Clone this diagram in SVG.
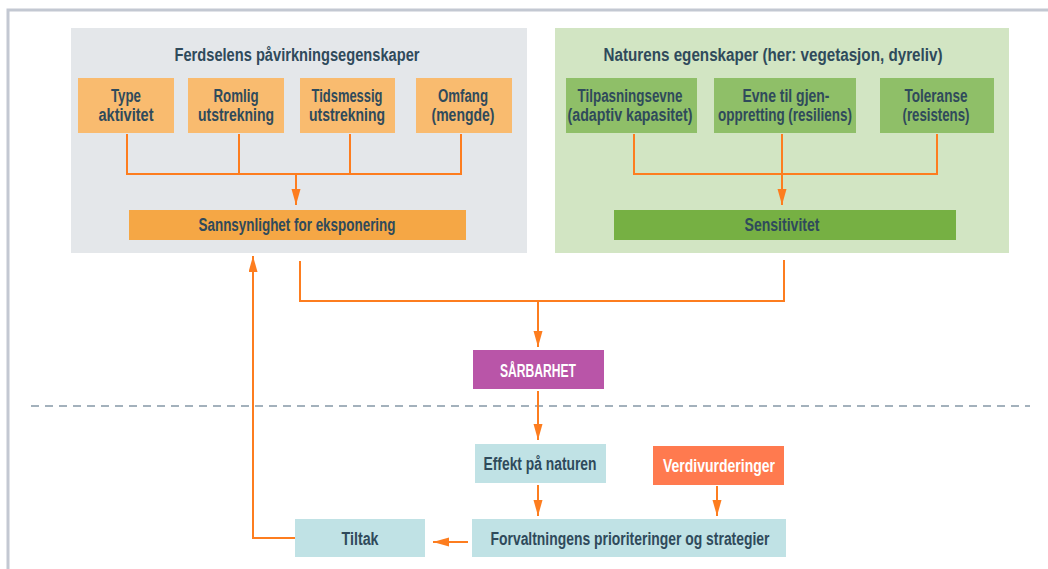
<svg xmlns="http://www.w3.org/2000/svg" width="1048" height="569" viewBox="0 0 1048 569">
<style>
.t{font-family:"Liberation Sans",Arial,sans-serif;font-weight:bold;font-size:18px;fill:#2f4a5b;text-anchor:middle}
.w{fill:#ffffff}
.c{fill:none;stroke:#fd7d1f;stroke-width:2}
.a{marker-end:url(#ah)}
</style>
<defs>
<marker id="ah" markerUnits="userSpaceOnUse" markerWidth="16" markerHeight="10" refX="16" refY="4.5" orient="auto">
<path d="M0,0 L16,4.5 L0,9 z" fill="#fd7d1f"/>
</marker>
</defs>
<rect width="1048" height="569" fill="#ffffff"/>
<path d="M8,569 V10 H1048" fill="none" stroke="#c3c8d2" stroke-width="3"/>
<line x1="31" y1="406" x2="1030" y2="406" stroke="#a3b1bc" stroke-width="2" stroke-dasharray="8 6"/>

<g id="panel-ferdsel">
<rect x="71" y="28" width="456" height="225" fill="#e4e7ea"/>
<text class="t" x="297" y="61" font-size="19" textLength="245" lengthAdjust="spacingAndGlyphs">Ferdselens påvirkningsegenskaper</text>
</g>
<g id="panel-natur">
<rect x="555" y="28" width="454" height="225" fill="#d2e5c3"/>
<text class="t" x="773" y="61" font-size="19" textLength="339" lengthAdjust="spacingAndGlyphs">Naturens egenskaper (her: vegetasjon, dyreliv)</text>
</g>

<g id="type-aktivitet">
<rect x="78" y="78" width="96" height="55" fill="#f9bb6f"/>
<text class="t" x="126" y="102" textLength="30" lengthAdjust="spacingAndGlyphs">Type</text>
<text class="t" x="126" y="121" textLength="55" lengthAdjust="spacingAndGlyphs">aktivitet</text>
</g>
<g id="romlig">
<rect x="188" y="78" width="96" height="55" fill="#f9bb6f"/>
<text class="t" x="236" y="102" textLength="45" lengthAdjust="spacingAndGlyphs">Romlig</text>
<text class="t" x="236" y="121" textLength="76" lengthAdjust="spacingAndGlyphs">utstrekning</text>
</g>
<g id="tidsmessig">
<rect x="300" y="78" width="95" height="55" fill="#f9bb6f"/>
<text class="t" x="347" y="102" textLength="71" lengthAdjust="spacingAndGlyphs">Tidsmessig</text>
<text class="t" x="347" y="121" textLength="76" lengthAdjust="spacingAndGlyphs">utstrekning</text>
</g>
<g id="omfang">
<rect x="416" y="78" width="96" height="55" fill="#f9bb6f"/>
<text class="t" x="463" y="102" textLength="50" lengthAdjust="spacingAndGlyphs">Omfang</text>
<text class="t" x="463" y="121" textLength="63" lengthAdjust="spacingAndGlyphs">(mengde)</text>
</g>
<g id="sannsynlighet">
<rect x="129" y="210" width="337" height="30" fill="#f5a745"/>
<text class="t" x="297" y="231" textLength="197" lengthAdjust="spacingAndGlyphs">Sannsynlighet for eksponering</text>
</g>

<g id="tilpasningsevne">
<rect x="566" y="78" width="131" height="55" fill="#8fbf68"/>
<text class="t" x="630" y="102" textLength="105" lengthAdjust="spacingAndGlyphs">Tilpasningsevne</text>
<text class="t" x="630" y="121" textLength="125" lengthAdjust="spacingAndGlyphs">(adaptiv kapasitet)</text>
</g>
<g id="evne-gjenoppretting">
<rect x="714" y="78" width="142" height="55" fill="#8fbf68"/>
<text class="t" x="786" y="102" textLength="87" lengthAdjust="spacingAndGlyphs">Evne til gjen-</text>
<text class="t" x="785" y="121" textLength="134" lengthAdjust="spacingAndGlyphs">oppretting (resiliens)</text>
</g>
<g id="toleranse">
<rect x="880" y="78" width="114" height="55" fill="#8fbf68"/>
<text class="t" x="936" y="102" textLength="63" lengthAdjust="spacingAndGlyphs">Toleranse</text>
<text class="t" x="936" y="121" textLength="67" lengthAdjust="spacingAndGlyphs">(resistens)</text>
</g>
<g id="sensitivitet">
<rect x="614" y="210" width="342" height="30" fill="#76b043"/>
<text class="t" x="782" y="231" textLength="75" lengthAdjust="spacingAndGlyphs">Sensitivitet</text>
</g>

<g id="sarbarhet">
<rect x="473" y="350" width="131" height="39" fill="#b955a8"/>
<text class="t w" x="538" y="377" textLength="76" lengthAdjust="spacingAndGlyphs">SÅRBARHET</text>
</g>
<g id="effekt">
<rect x="475" y="444" width="131" height="39" fill="#c0e2e5"/>
<text class="t" x="540" y="470" textLength="113" lengthAdjust="spacingAndGlyphs">Effekt på naturen</text>
</g>
<g id="verdivurderinger">
<rect x="653" y="446" width="131" height="39" fill="#ff7a4f"/>
<text class="t w" x="719" y="472" textLength="112" lengthAdjust="spacingAndGlyphs">Verdivurderinger</text>
</g>
<g id="forvaltningens">
<rect x="472" y="519" width="314" height="38" fill="#c0e2e5"/>
<text class="t" x="630" y="545" textLength="279" lengthAdjust="spacingAndGlyphs">Forvaltningens prioriteringer og strategier</text>
</g>
<g id="tiltak">
<rect x="295" y="519" width="130" height="38" fill="#c0e2e5"/>
<text class="t" x="360" y="545" textLength="37" lengthAdjust="spacingAndGlyphs">Tiltak</text>
</g>

<g id="connectors">
<path class="c" d="M127,134 V174 H461 V134 M239,134 V174 M350,134 V174"/>
<path class="c a" d="M296,174 V205"/>
<path class="c" d="M634,134 V174 H937 V134"/>
<path class="c a" d="M782,134 V205"/>
<path class="c" d="M300,261 V301 H784 V260"/>
<path class="c a" d="M538,301 V347"/>
<path class="c a" d="M538,391 V440"/>
<path class="c a" d="M538,485 V516"/>
<path class="c a" d="M717,486 V516"/>
<path class="c a" d="M468,542 H433"/>
<path class="c a" d="M295,538 H253 V256"/>
</g>
</svg>
